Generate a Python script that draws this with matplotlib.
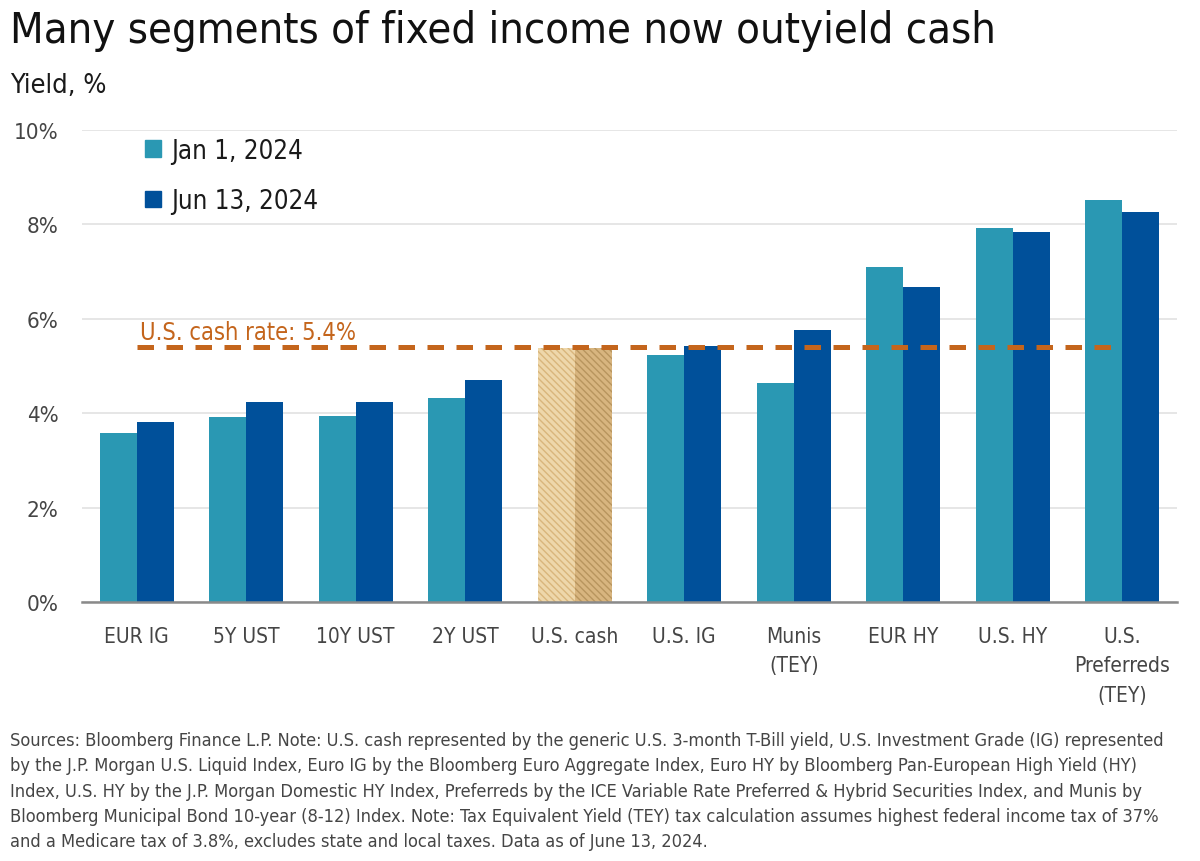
import matplotlib
matplotlib.use("Agg")
import matplotlib.pyplot as plt
from matplotlib.patches import Patch

# data
categories = ["EUR IG", "5Y UST", "10Y UST", "2Y UST", "U.S. cash", "U.S. IG",
              "Munis\n(TEY)", "EUR HY", "U.S. HY", "U.S.\nPreferreds\n(TEY)"]
jan_2024 = [3.58, 3.92, 3.94, 4.32, 5.38, 5.23, 4.64, 7.10, 7.92, 8.52]
jun_2024 = [3.81, 4.24, 4.24, 4.70, 5.38, 5.42, 5.76, 6.67, 7.84, 8.26]
cash_rate = 5.4
series_names = ["Jan 1, 2024", "Jun 13, 2024"]
yticks = [0, 2, 4, 6, 8, 10]
cash_idx = categories.index("U.S. cash")

title = "Many segments of fixed income now outyield cash"
ylabel = "Yield, %"
note = ("Sources: Bloomberg Finance L.P. Note: U.S. cash represented by the generic U.S. 3-month T-Bill yield, U.S. Investment Grade (IG) represented\n"
        "by the J.P. Morgan U.S. Liquid Index, Euro IG by the Bloomberg Euro Aggregate Index, Euro HY by Bloomberg Pan-European High Yield (HY)\n"
        "Index, U.S. HY by the J.P. Morgan Domestic HY Index, Preferreds by the ICE Variable Rate Preferred & Hybrid Securities Index, and Munis by\n"
        "Bloomberg Municipal Bond 10-year (8-12) Index. Note: Tax Equivalent Yield (TEY) tax calculation assumes highest federal income tax of 37%\n"
        "and a Medicare tax of 3.8%, excludes state and local taxes. Data as of June 13, 2024.")

# condensed DejaVu is closest to the narrow house font
plt.rcParams["font.family"] = ["DejaVu Sans"]
plt.rcParams["font.stretch"] = "condensed"

teal = "#2a98b3"
navy = "#00509a"
orange = "#c4651c"
txt = "#1a1a1a"
grey = "#454545"

W, H = 1200, 862
fig = plt.figure(figsize=(12, 8.62), dpi=100)
ax = fig.add_axes([82 / W, 1 - 603 / H, (1177 - 82) / W, (603 - 131) / H])

w = 0.338
x = list(range(len(categories)))
for i in x:
    if i == cash_idx:
        # cash bars are hatched in tan
        ax.bar(i - w / 2, jan_2024[i], w, facecolor="#eed7ab",
               edgecolor="#d9b67c", hatch="\\\\\\\\\\", linewidth=0, zorder=2)
        ax.bar(i + w / 2, jun_2024[i], w, facecolor="#d8b57f",
               edgecolor="#b8955e", hatch="\\\\\\\\\\", linewidth=0, zorder=2)
    else:
        ax.bar(i - w / 2, jan_2024[i], w, color=teal, zorder=2)
        ax.bar(i + w / 2, jun_2024[i], w, color=navy, zorder=2)

ax.plot([0, 9], [cash_rate, cash_rate], color=orange, lw=3.6,
        dashes=(3.3, 2.5), zorder=3)
ax.text(0.03, cash_rate + 0.18, "U.S. cash rate: 5.4%", color=orange,
        fontsize=17, va="baseline", ha="left")

ax.set_xlim(-0.5, 9.5)
ax.set_ylim(0, 10)
ax.set_yticks(yticks)
ax.set_yticklabels([f"{t}%" for t in yticks])
ax.set_xticks(x)
ax.set_xticklabels(categories, linespacing=1.6)
ax.tick_params(axis="y", length=0, pad=17, labelsize=16, labelcolor=grey)
ax.tick_params(axis="x", length=0, pad=17, labelsize=15, labelcolor=grey)
ax.grid(axis="y", color="#e2e2e2", lw=1.2, zorder=0)
for s in ["top", "right", "left"]:
    ax.spines[s].set_visible(False)
ax.spines["bottom"].set_color("#8a8a8a")
ax.spines["bottom"].set_linewidth(1.8)
ax.spines["bottom"].set_zorder(4)

handles = [Patch(color=teal), Patch(color=navy)]
ax.legend(handles, series_names, loc="upper left", bbox_to_anchor=(0.0575, 0.984),
          borderpad=0, borderaxespad=0, frameon=False, fontsize=18.5,
          handlelength=0.62, handleheight=0.62, handletextpad=0.38,
          labelspacing=0.95, labelcolor=txt)

fig.text(10 / W, 1 - 43 / H, title, fontsize=31.2, color="#111111",
         va="baseline", ha="left")
fig.text(10 / W, 1 - 93 / H, ylabel, fontsize=19.5, color=txt,
         va="baseline", ha="left")
fig.text(10 / W, 1 - 732 / H, note, fontsize=13.1, color=grey,
         va="top", ha="left", linespacing=1.52)

fig.savefig("out.png", dpi=100)
